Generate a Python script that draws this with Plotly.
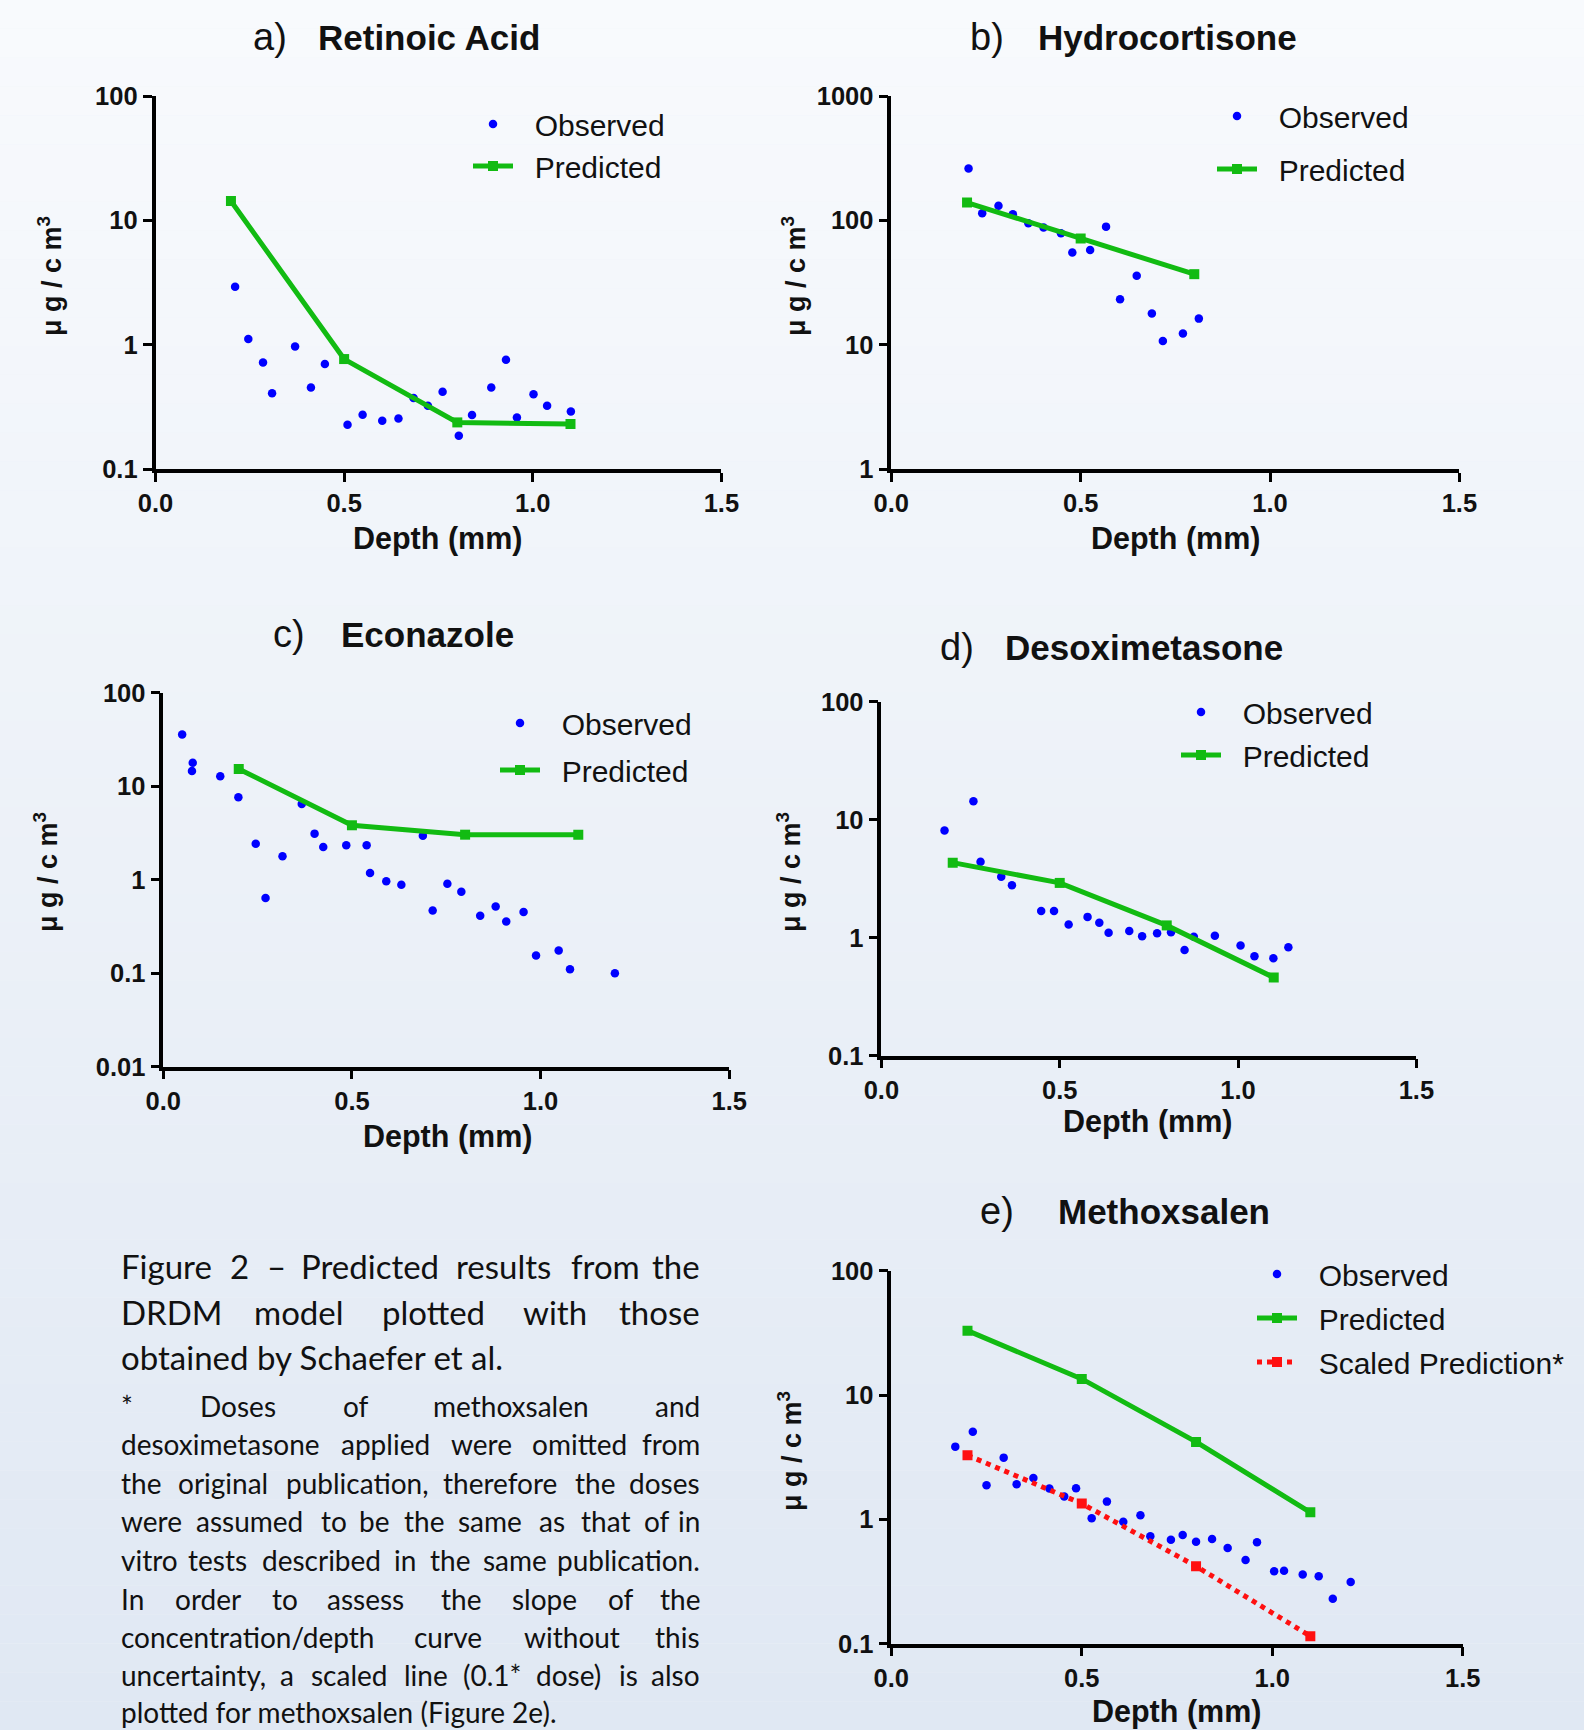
import plotly.graph_objects as go

W, H = 1584, 1730
FONT = "Liberation Sans, Arial, sans-serif"
CAP_FONT = "Lato, sans-serif"
BLUE = "#0000ff"
GREEN = "#12bb12"
RED = "#ff1010"
INK = "#111111"
NB = "\u00a0\u00a0"

# ---------------- data ----------------
pred_x = [0.2, 0.5, 0.8, 1.1]

a_obs_x = [0.211, 0.246, 0.285, 0.309, 0.370, 0.412, 0.449, 0.509, 0.549, 0.601, 0.644,
           0.684, 0.722, 0.761, 0.804, 0.839, 0.890, 0.929, 0.958, 1.002, 1.038, 1.101]
a_obs_y = [2.92, 1.11, 0.72, 0.406, 0.967, 0.453, 0.70, 0.227, 0.273, 0.244, 0.255,
           0.372, 0.323, 0.418, 0.185, 0.272, 0.453, 0.755, 0.26, 0.40, 0.323, 0.29]
a_pred_y = [14.3, 0.766, 0.237, 0.23]

b_obs_x = [0.204, 0.240, 0.283, 0.321, 0.362, 0.402, 0.448, 0.478, 0.525, 0.567, 0.604,
           0.648, 0.688, 0.717, 0.770, 0.812]
b_obs_y = [261, 114, 131, 112, 94.8, 87.5, 78.8, 55, 57.8, 89, 23.2, 35.8, 17.8, 10.7, 12.3, 16.2]
b_pred_x = [0.2, 0.5, 0.8]
b_pred_y = [139, 71.3, 36.9]

c_obs_x = [0.050, 0.078, 0.076, 0.151, 0.199, 0.245, 0.271, 0.316, 0.367, 0.401, 0.424,
           0.485, 0.539, 0.548, 0.591, 0.631, 0.688, 0.714, 0.753, 0.790, 0.840, 0.881,
           0.909, 0.955, 0.988, 1.048, 1.078, 1.197]
c_obs_y = [35.8, 17.8, 14.5, 12.8, 7.62, 2.43, 0.637, 1.78, 6.47, 3.11, 2.24,
           2.33, 2.33, 1.18, 0.96, 0.883, 2.96, 0.469, 0.905, 0.743, 0.411, 0.518,
           0.358, 0.451, 0.155, 0.175, 0.110, 0.100]
c_pred_y = [15.3, 3.82, 3.03, 3.03]

d_obs_x = [0.177, 0.258, 0.278, 0.336, 0.366, 0.448, 0.484, 0.525, 0.578, 0.611, 0.637,
           0.695, 0.731, 0.773, 0.812, 0.850, 0.876, 0.935, 1.007, 1.046, 1.099, 1.141]
d_obs_y = [8.09, 14.3, 4.40, 3.28, 2.78, 1.68, 1.68, 1.29, 1.50, 1.34, 1.10,
           1.14, 1.03, 1.09, 1.11, 0.787, 1.02, 1.04, 0.857, 0.695, 0.668, 0.83]
d_pred_y = [4.32, 2.91, 1.27, 0.46]

e_obs_x = [0.168, 0.214, 0.250, 0.295, 0.329, 0.373, 0.415, 0.454, 0.485, 0.526, 0.566,
           0.609, 0.654, 0.680, 0.734, 0.765, 0.800, 0.842, 0.883, 0.930, 0.960, 1.005,
           1.031, 1.080, 1.122, 1.159, 1.206]
e_obs_y = [3.85, 5.08, 1.88, 3.14, 1.92, 2.15, 1.77, 1.53, 1.78, 1.02, 1.39,
           0.957, 1.08, 0.731, 0.687, 0.748, 0.662, 0.695, 0.589, 0.472, 0.655, 0.383,
           0.386, 0.360, 0.349, 0.230, 0.313]
e_pred_y = [33, 13.5, 4.2, 1.14]
e_scaled_y = [3.28, 1.34, 0.42, 0.115]

x_ticks = [0.0, 0.5, 1.0, 1.5]
x_ticktext = ["0.0", "0.5", "1.0", "1.5"]

panel_letters = ["a)", "b)", "c)", "d)", "e)"]
panel_names = ["Retinoic Acid", "Hydrocortisone", "Econazole", "Desoximetasone", "Methoxsalen"]
y_tickvals = [[0.1, 1, 10, 100], [1, 10, 100, 1000], [0.01, 0.1, 1, 10, 100],
              [0.1, 1, 10, 100], [0.1, 1, 10, 100]]
y_ticktext = [["0.1", "1", "10", "100"], ["1", "10", "100", "1000"],
              ["0.01", "0.1", "1", "10", "100"], ["0.1", "1", "10", "100"],
              ["0.1", "1", "10", "100"]]
y_ranges = [[-1, 2], [0, 3], [-2, 2], [-1, 2], [-1, 2]]

caption_p1 = ["Figure 2 \u2013 Predicted results from the",
              "DRDM model plotted with those",
              "obtained by Schaefer et al."]
caption_p2 = ["*  Doses of methoxsalen and",
              "desoximetasone applied were omitted from",
              "the original publication, therefore the doses",
              "were assumed to be the same as that of in",
              "vitro tests described in the same publication.",
              "In order to assess the slope of the",
              "concentration/depth curve without this",
              "uncertainty, a scaled line (0.1* dose) is also",
              "plotted for methoxsalen (Figure 2e)."]

# ---------------- layout geometry (pixels) ----------------
boxes = [(155.5, 721.4, 96, 469), (891.3, 1459.4, 96, 469),
         (163.3, 729.2, 692.7, 1066.7), (881.4, 1416.4, 701.6, 1055.7),
         (891.3, 1462.7, 1270.8, 1643.7)]
title_pos = [(270, 316, 37), (987, 1036, 37), (289, 339, 634), (957, 1003, 647), (997, 1056, 1211)]
xlab_pos = [(437, 538), (1175, 538), (447, 1136), (1147, 1121), (1176, 1711)]
ylab_pos = [(50, 276), (794, 276), (46, 872), (789, 872), (790, 1451)]
legend_pos = [(468, 98, 0), (1212, 90, 11), (495, 697, 5), (1176, 686, 1), (1252, 1248, 2)]


def px(x):
    return x / W


def py(y):
    return 1 - y / H


fig = go.Figure()

obs_sets = [(a_obs_x, a_obs_y), (b_obs_x, b_obs_y), (c_obs_x, c_obs_y),
            (d_obs_x, d_obs_y), (e_obs_x, e_obs_y)]
pred_sets = [(pred_x, a_pred_y), (b_pred_x, b_pred_y), (pred_x, c_pred_y),
             (pred_x, d_pred_y), (pred_x, e_pred_y)]

for i in range(5):
    sfx = "" if i == 0 else str(i + 1)
    lg = "legend" + sfx
    fig.add_trace(go.Scatter(
        x=obs_sets[i][0], y=obs_sets[i][1], mode="markers", name=NB + "Observed",
        marker=dict(color=BLUE, size=8.5, symbol="circle", line=dict(width=0)),
        xaxis="x" + sfx, yaxis="y" + sfx, legend=lg, legendgroup=f"o{i}"))
    fig.add_trace(go.Scatter(
        x=pred_sets[i][0], y=pred_sets[i][1], mode="lines+markers", name=NB + "Predicted",
        line=dict(color=GREEN, width=5),
        marker=dict(color=GREEN, size=10, symbol="square"),
        xaxis="x" + sfx, yaxis="y" + sfx, legend=lg, legendgroup=f"p{i}"))
    if i == 4:
        fig.add_trace(go.Scatter(
            x=pred_x, y=e_scaled_y, mode="lines+markers", name=NB + "Scaled Prediction*",
            line=dict(color=RED, width=5, dash="dot"),
            marker=dict(color=RED, size=10, symbol="square"),
            xaxis="x" + sfx, yaxis="y" + sfx, legend=lg, legendgroup="s4"))

layout = dict(
    width=W, height=H, autosize=False,
    margin=dict(l=0, r=0, t=0, b=0, autoexpand=False),
    paper_bgcolor="#eef2f8", plot_bgcolor="rgba(0,0,0,0)",
    font=dict(family=FONT, color=INK),
    showlegend=True,
)

axis_common = dict(showline=True, linecolor="black", linewidth=3.5, ticks="outside",
                   ticklen=9, tickwidth=3, tickcolor="black", showgrid=False, zeroline=False,
                   automargin=False,
                   tickfont=dict(family=FONT, size=25.5, color=INK, weight="bold"))

annotations = []
for i in range(5):
    sfx = "" if i == 0 else str(i + 1)
    l, r, t, b = boxes[i]
    layout["xaxis" + sfx] = dict(axis_common, domain=[px(l), px(r)], range=[0, 1.5],
                                  tickvals=x_ticks, ticktext=x_ticktext,
                                  anchor="y" + sfx)
    layout["yaxis" + sfx] = dict(axis_common, domain=[py(b), py(t)], type="log",
                                  range=y_ranges[i], tickvals=y_tickvals[i],
                                  ticktext=y_ticktext[i], anchor="x" + sfx)
    lx, ly, gap = legend_pos[i]
    layout["legend" + sfx] = dict(x=px(lx), y=py(ly), xanchor="left", yanchor="top",
                                   bgcolor="rgba(0,0,0,0)", itemwidth=40,
                                   tracegroupgap=gap,
                                   font=dict(family=FONT, size=30, color=INK))
    lx0, nx0, ty = title_pos[i]
    annotations.append(dict(x=px(lx0), y=py(ty), xref="paper", yref="paper",
                            text=panel_letters[i], showarrow=False, xanchor="center",
                            yanchor="middle", font=dict(family=FONT, size=38, color=INK)))
    annotations.append(dict(x=px(nx0), y=py(ty), xref="paper", yref="paper",
                            text="<b>" + panel_names[i] + "</b>", showarrow=False,
                            xanchor="left", yanchor="middle",
                            font=dict(family=FONT, size=35, color=INK)))
    xx, xy = xlab_pos[i]
    annotations.append(dict(x=px(xx), y=py(xy), xref="paper", yref="paper",
                            text="<b>Depth (mm)</b>", showarrow=False, xanchor="center",
                            yanchor="middle", font=dict(family=FONT, size=30.5, color=INK)))
    yx, yy = ylab_pos[i]
    annotations.append(dict(x=px(yx), y=py(yy), xref="paper", yref="paper",
                            text="<b>\u03bc g / c m<sup>3</sup></b>", showarrow=False,
                            textangle=-90, xanchor="center", yanchor="middle",
                            font=dict(family=FONT, size=27, color=INK)))

# ---------------- caption (justified text) ----------------
CW = {}
for ch in "abdeghnopqu":
    CW[ch] = 0.55
for ch in "ckrsvxyz":
    CW[ch] = 0.46
for ch in "ijl":
    CW[ch] = 0.23
CW.update({"f": 0.31, "t": 0.33, "r": 0.35, "m": 0.83, "w": 0.75, " ": 0.2, ".": 0.22,
           ",": 0.22, "(": 0.29, ")": 0.29, "/": 0.35, "*": 0.42, "\u2013": 0.5,
           "F": 0.52, "D": 0.7, "R": 0.6, "M": 0.86, "S": 0.5, "I": 0.26, "P": 0.57})


def text_w(s, size):
    return sum(CW.get(c, 0.57 if c.isupper() or c.isdigit() else 0.5) for c in s) * size


CAP_L, CAP_R = 119.0, 701.6


def add_lines(lines, ys, size):
    for k, (line, y) in enumerate(zip(lines, ys)):
        last = k == len(lines) - 1
        words = line.split()
        if last or len(words) < 2:
            annotations.append(dict(x=px(CAP_L), y=py(y), xref="paper", yref="paper",
                                    text=line, showarrow=False, xanchor="left",
                                    yanchor="middle",
                                    font=dict(family=CAP_FONT, size=size, color=INK)))
            continue
        widths = [text_w(wd, size) for wd in words]
        gap = (CAP_R - CAP_L - sum(widths)) / (len(words) - 1)
        xcur = CAP_L
        for j, wd in enumerate(words):
            last_word = j == len(words) - 1
            annotations.append(dict(x=px(CAP_R if last_word else xcur), y=py(y),
                                    xref="paper", yref="paper", text=wd, showarrow=False,
                                    xanchor="right" if last_word else "left",
                                    yanchor="middle",
                                    font=dict(family=CAP_FONT, size=size, color=INK)))
            xcur += widths[j] + gap


add_lines(caption_p1, [1266, 1311.5, 1357], 33)
add_lines(caption_p2, [1405.5, 1444, 1482.5, 1521, 1560, 1598.5, 1637, 1675, 1712], 28)

layout["annotations"] = annotations

# background gradient bands
shapes = []
N = 60
c0 = (248, 250, 253)
c1 = (224, 232, 243)
for k in range(N):
    f = k / (N - 1)
    col = tuple(round(c0[j] + (c1[j] - c0[j]) * f) for j in range(3))
    shapes.append(dict(type="rect", xref="paper", yref="paper", x0=0, x1=1,
                       y0=1 - (k + 1) / N, y1=1 - k / N, layer="below",
                       fillcolor="rgb(%d,%d,%d)" % col, line=dict(width=0)))
layout["shapes"] = shapes

fig.update_layout(**layout)
fig.write_html("out.html", config={"responsive": False, "displayModeBar": False},
               post_script="document.body.style.margin='0px';"
                           "document.body.style.overflow='hidden';")
